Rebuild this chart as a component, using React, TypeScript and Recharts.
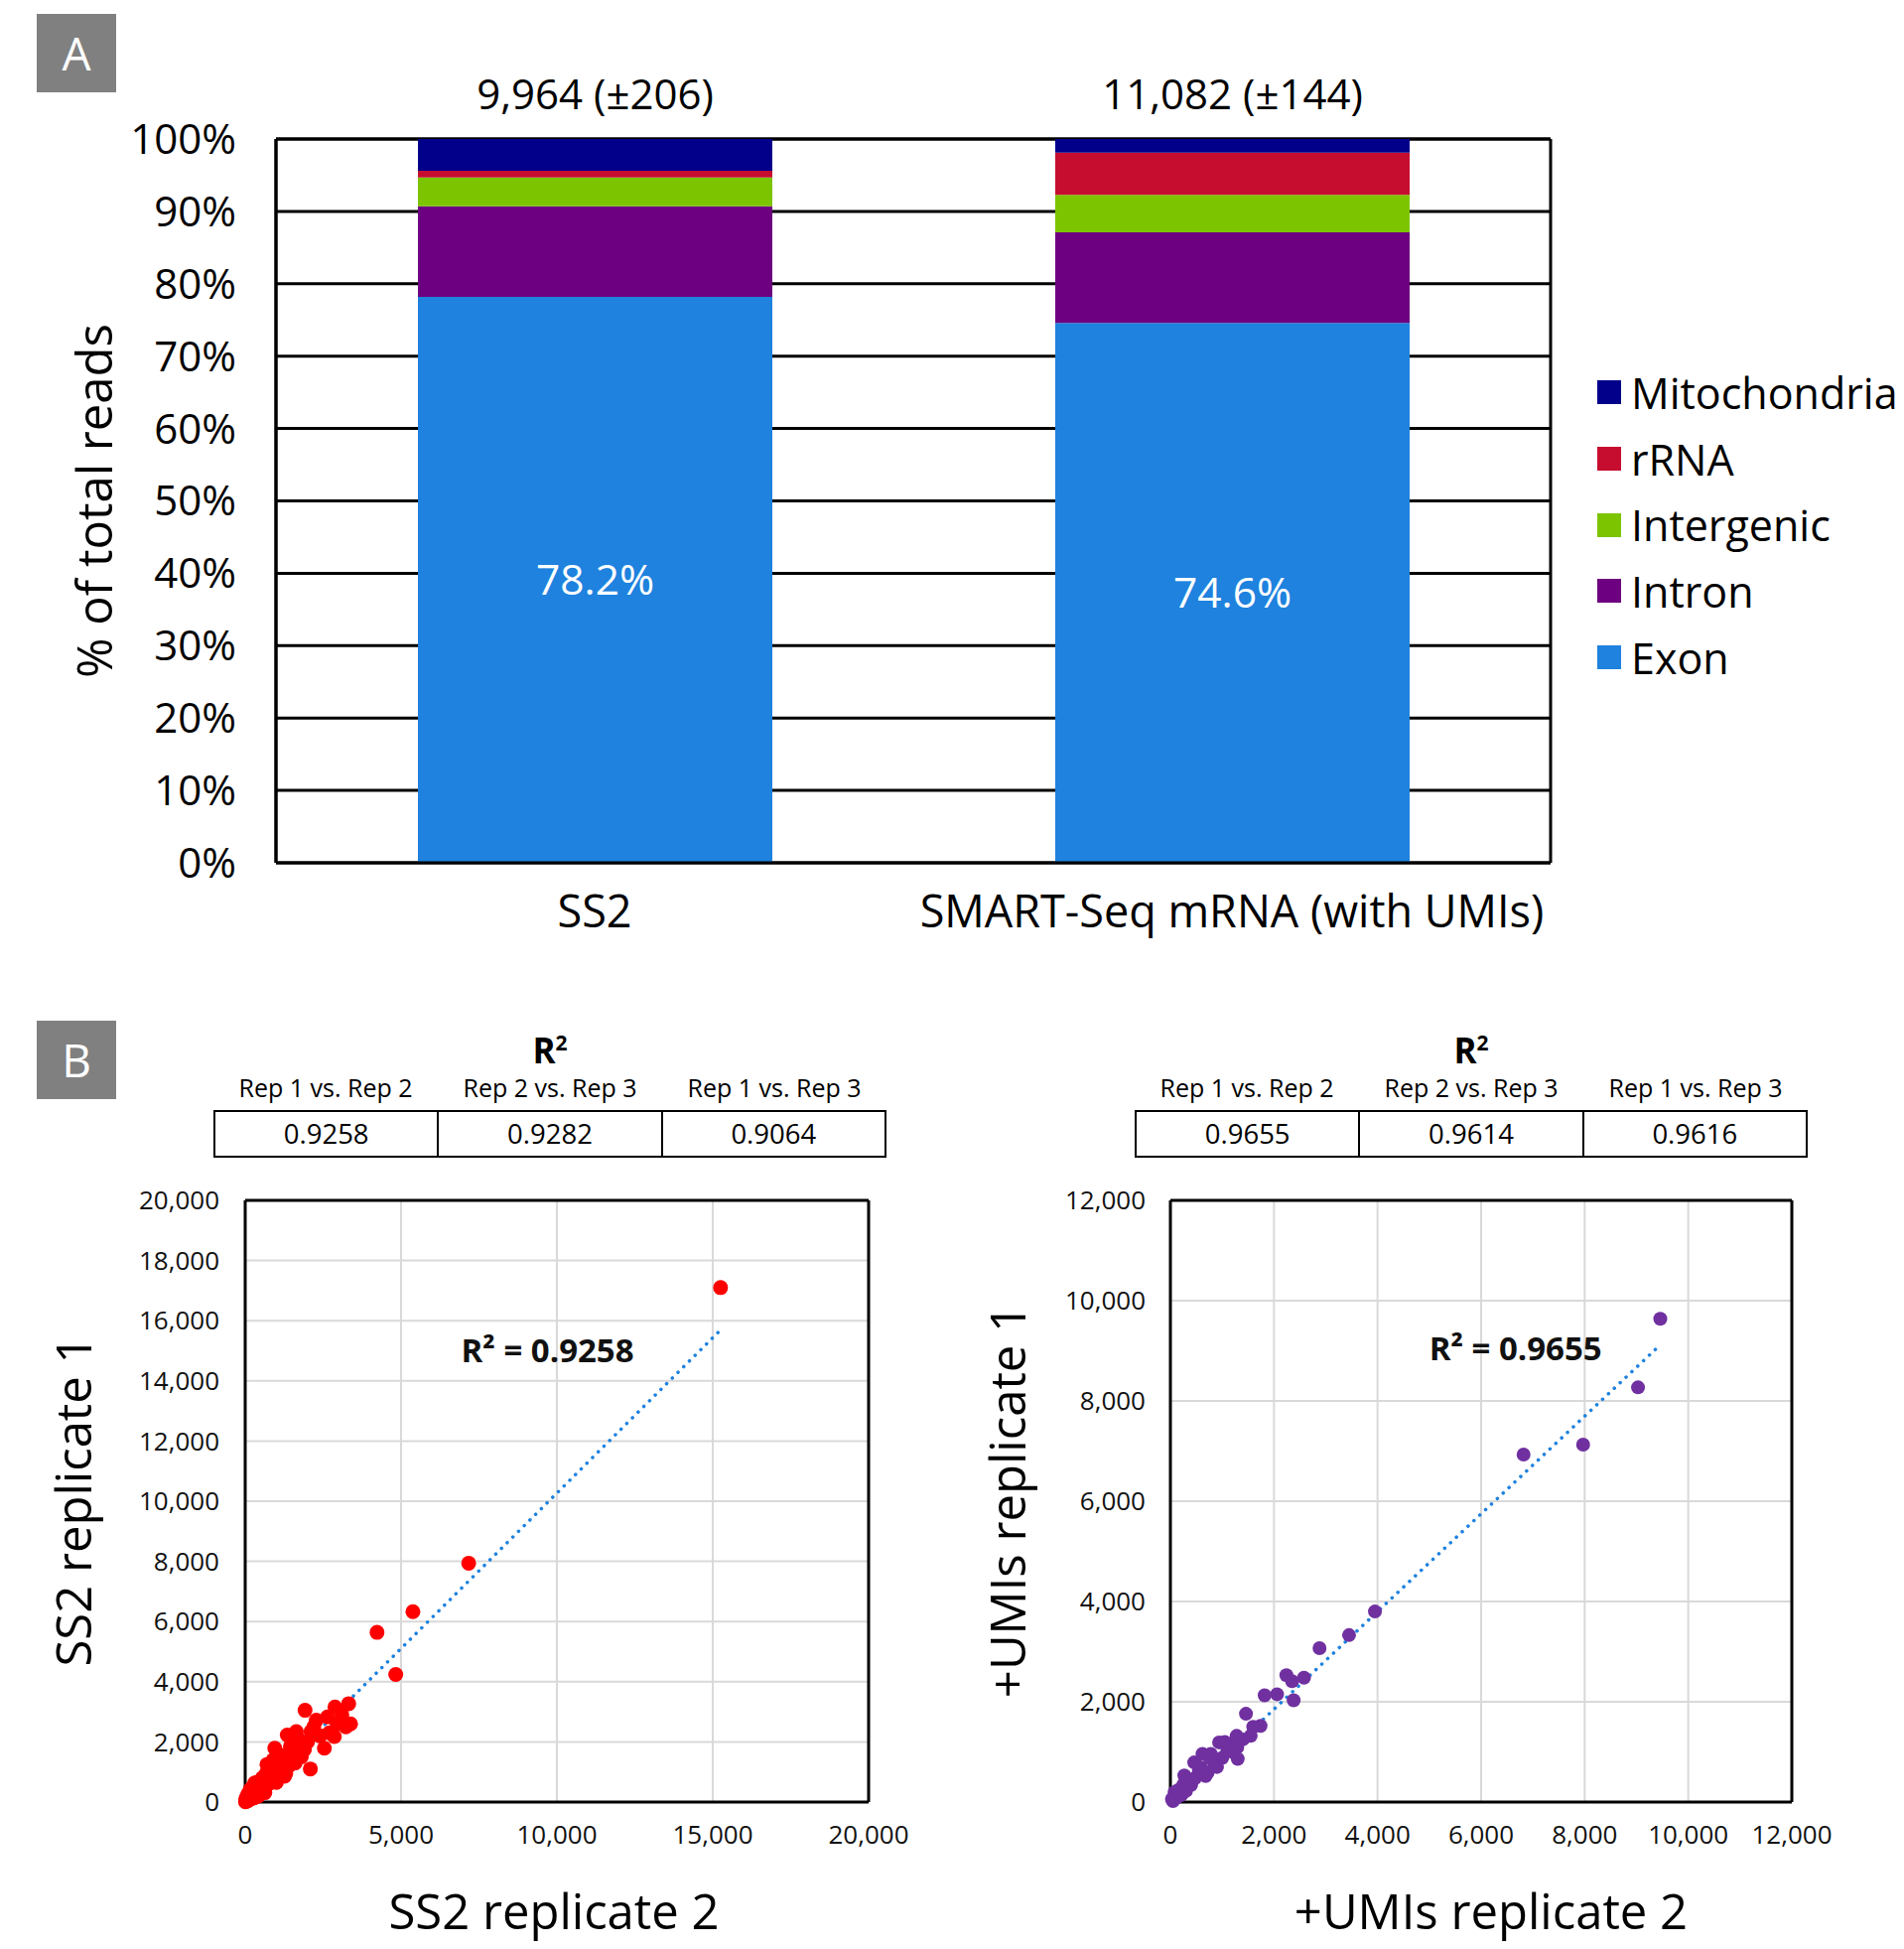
import {
  Bar,
  BarChart,
  CartesianGrid,
  LabelList,
  ReferenceDot,
  ReferenceLine,
  Scatter,
  ScatterChart,
  XAxis,
  YAxis,
} from "recharts";

// ---- panel A data ----
const categories = ["SS2", "SMART-Seq mRNA (with UMIs)"];
const readCounts = ["9,964 (±206)", "11,082 (±144)"];
const exon = [78.2, 74.6];
const intron = [12.5, 12.5];
const intergenic = [4.0, 5.2];
const rrna = [0.9, 5.8];
const mito = [4.4, 1.9];
const pctTicks = [0, 10, 20, 30, 40, 50, 60, 70, 80, 90, 100];

const SERIES = [
  { key: "Exon", color: "#1E82DE" },
  { key: "Intron", color: "#6D0080" },
  { key: "Intergenic", color: "#7CC400" },
  { key: "rRNA", color: "#C60D30" },
  { key: "Mitochondria", color: "#02008A" },
];

// ---- panel B data ----
const comparisons = ["Rep 1 vs. Rep 2", "Rep 2 vs. Rep 3", "Rep 1 vs. Rep 3"];
const ss2R2 = ["0.9258", "0.9282", "0.9064"];
const umiR2 = ["0.9655", "0.9614", "0.9616"];

const ss2X = [
  15250, 7170, 5380, 4230, 4830, 3320, 2880, 1920, 3230, 3380, 2280, 2640, 1640, 1350, 2110, 2540, 2090, 950,
  1850, 1580, 2400, 2000, 2200, 1800, 1700, 1500, 1400, 1250, 1100, 1200, 1000, 900, 800, 850, 700, 750, 600,
  650, 500, 550, 400, 450, 350, 300, 250, 200, 150, 120, 80, 60, 40, 30, 20, 10, 100, 180, 300, 1600, 1000,
  1300, 2700, 2950, 3100, 840, 1260, 630, 310, 2860, 1900, 1450, 1150, 700, 520, 420, 260, 160,
];
const ss2Y = [
  17100, 7940, 6330, 5640, 4240, 3270, 3160, 3050, 2500, 2600, 2720, 2830, 2340, 2230, 2340, 1790, 1100, 1790,
  1790, 2010, 2200, 2000, 2500, 1500, 2100, 1600, 1200, 1500, 1300, 900, 1000, 1400, 800, 1100, 1000, 600, 700,
  900, 500, 800, 600, 350, 450, 300, 500, 200, 350, 100, 250, 60, 150, 30, 80, 10, 50, 120, 150, 1300, 650,
  950, 2300, 2600, 2900, 1190, 860, 310, 640, 2180, 1750, 1850, 1550, 1250, 600, 200, 130, 420,
];
const ss2Trend = { x: [0, 15180], y: [-60, 15620] };

const umiX = [
  9460, 9030, 7970, 6820, 3950, 3450, 2880, 2580, 2240, 2350, 2380, 2060, 1820, 1740, 1460, 1550, 1280, 1300,
  940, 1100, 620, 460, 720, 270, 80, 590, 400, 210, 50, 1290, 1160, 780, 1000, 850, 680, 550, 350, 300, 150,
  120, 1400, 1200, 900, 760, 480, 250, 100, 30, 1600, 1050,
];
const umiY = [
  9640, 8270, 7130, 6930, 3800, 3330, 3070, 2480, 2530, 2410, 2030, 2150, 2130, 1520, 1760, 1320, 1320, 860,
  1190, 1020, 960, 790, 590, 530, 200, 690, 340, 140, 20, 1090, 1160, 960, 880, 760, 520, 620, 420, 220, 240,
  90, 1250, 1000, 700, 880, 480, 350, 130, 60, 1500, 1200,
];
const umiTrend = { x: [100, 9410], y: [0, 9070] };

const ss2Ticks = [0, 2000, 4000, 6000, 8000, 10000, 12000, 14000, 16000, 18000, 20000];
const ss2XTicks = [0, 5000, 10000, 15000, 20000];
const umiTicks = [0, 2000, 4000, 6000, 8000, 10000, 12000];

const barData = categories.map((name, i) => ({
  name,
  reads: readCounts[i],
  Exon: exon[i],
  Intron: intron[i],
  Intergenic: intergenic[i],
  rRNA: rrna[i],
  Mitochondria: mito[i],
}));

const ss2Points = ss2X.map((x, i) => ({ x, y: ss2Y[i] }));
const umiPoints = umiX.map((x, i) => ({ x, y: umiY[i] }));

const fmt = (v: number) => v.toLocaleString("en-US");

const yTitle = (text: string, dx: number, size: number) => (props: any) => {
  const { x, y, height } = props.viewBox;
  const cx = x + dx;
  const cy = y + height / 2;
  return (
    <text
      x={cx}
      y={cy}
      transform={`rotate(-90 ${cx} ${cy})`}
      textAnchor="middle"
      dominantBaseline="central"
      fontSize={size}
      fill="#000"
    >
      {text}
    </text>
  );
};

const xTitle = (text: string, dx: number, dy: number) => (props: any) => {
  const { x, y, width } = props.viewBox;
  return (
    <text x={x + width / 2 + dx} y={y + dy} textAnchor="middle" dominantBaseline="central" fontSize={49} fill="#000">
      {text}
    </text>
  );
};

// left and right frame edges of the bar plot, taken from the chart's own offset
const frameEdges = ({ offset }: any) => [offset.left, offset.left + offset.width];

const PanelTag = ({ letter, top }: { letter: string; top: number }) => (
  <div
    style={{
      position: "absolute",
      left: 37,
      top,
      width: 80,
      height: 79,
      background: "#808080",
      color: "#fff",
      fontSize: 46,
      lineHeight: "79px",
      textAlign: "center",
    }}
  >
    {letter}
  </div>
);

const R2Table = ({ left, values }: { left: number; values: string[] }) => (
  <div style={{ position: "absolute", left, top: 1028, width: 678 }}>
    <div style={{ textAlign: "center", fontWeight: 700, fontSize: 35, lineHeight: "44px" }}>
      R<sup style={{ fontSize: 21 }}>2</sup>
    </div>
    <div style={{ display: "flex", height: 38, alignItems: "center", fontSize: 25, marginTop: -4, marginBottom: 4 }}>
      {comparisons.map((c) => (
        <div key={c} style={{ flex: 1, textAlign: "center" }}>
          {c}
        </div>
      ))}
    </div>
    <div
      style={{
        display: "flex",
        height: 48,
        border: "2px solid #000",
        boxSizing: "border-box",
        fontSize: 27.5,
        alignItems: "stretch",
      }}
    >
      {values.map((v, i) => (
        <div
          key={i}
          style={{
            flex: 1,
            textAlign: "center",
            lineHeight: "44px",
            borderLeft: i === 0 ? "none" : "2px solid #000",
          }}
        >
          {v}
        </div>
      ))}
    </div>
  </div>
);

const tickStyle = { fontSize: 26, fill: "#111" };

export default function App() {
  return (
    <div
      style={{
        position: "absolute",
        left: 0,
        top: 0,
        width: 1918,
        height: 1963,
        background: "#fff",
        fontFamily: "'Open Sans', sans-serif",
        overflow: "hidden",
      }}
    >
      <PanelTag letter="A" top={14} />
      <div style={{ position: "absolute", left: 0, top: 0 }}>
        <BarChart width={1918} height={960} data={barData} margin={{ top: 140, right: 356, bottom: 11, left: 38 }}>
          <CartesianGrid
            stroke="#000"
            strokeWidth={3}
            verticalCoordinatesGenerator={frameEdges}
          />
          <XAxis
            dataKey="name"
            tickLine={false}
            tickSize={0}
            tickMargin={33}
            height={80}
            axisLine={{ stroke: "#000", strokeWidth: 3 }}
            tick={{ fontSize: 45, fill: "#000" }}
          />
          <YAxis
            domain={[0, 100]}
            ticks={pctTicks}
            tickFormatter={(v) => `${v}%`}
            width={240}
            tickLine={false}
            tickSize={0}
            tickMargin={40}
            axisLine={{ stroke: "#000", strokeWidth: 3 }}
            tick={{ fontSize: 42, fill: "#000" }}
            label={{ content: yTitle("% of total reads", 56, 49) }}
          />
          {SERIES.map((s) => (
            <Bar key={s.key} dataKey={s.key} stackId="a" fill={s.color} barSize={357} isAnimationActive={false}>
              {s.key === "Exon" && (
                <LabelList dataKey="Exon" position="center" fill="#fff" fontSize={42.5} formatter={(v: any) => `${v}%`} />
              )}
              {s.key === "Mitochondria" && (
                <LabelList dataKey="reads" position="top" offset={30} fill="#000" fontSize={42} />
              )}
            </Bar>
          ))}
        </BarChart>
      </div>
      <div style={{ position: "absolute", left: 1609, top: 362 }}>
        {[...SERIES].reverse().map((s) => (
          <div key={s.key} style={{ display: "flex", alignItems: "center", height: 66.7 }}>
            <div style={{ width: 24, height: 24, background: s.color, marginRight: 10 }} />
            <span style={{ fontSize: 43 }}>{s.key}</span>
          </div>
        ))}
      </div>

      <PanelTag letter="B" top={1028} />
      <R2Table left={215} values={ss2R2} />
      <R2Table left={1143} values={umiR2} />

      <div style={{ position: "absolute", left: 0, top: 1180 }}>
        <ScatterChart width={960} height={783} margin={{ top: 29, right: 85, bottom: 0, left: 67 }}>
          <CartesianGrid stroke="#D9D9D9" strokeWidth={2} />
          <XAxis
            type="number"
            dataKey="x"
            domain={[0, 20000]}
            ticks={ss2XTicks}
            tickFormatter={fmt}
            height={148}
            tickLine={false}
            tickSize={0}
            tickMargin={24}
            axisLine={{ stroke: "#000", strokeWidth: 3 }}
            tick={tickStyle}
            label={{ content: xTitle("SS2 replicate 2", -3, 109) }}
          />
          <YAxis
            type="number"
            dataKey="y"
            domain={[0, 20000]}
            ticks={ss2Ticks}
            tickFormatter={fmt}
            width={180}
            tickLine={false}
            tickSize={0}
            tickMargin={26}
            axisLine={{ stroke: "#000", strokeWidth: 3 }}
            tick={tickStyle}
            label={{ content: yTitle("SS2 replicate 1", 6, 49) }}
          />
          <ReferenceLine y={20000} stroke="#000" strokeWidth={3} />
          <ReferenceLine x={20000} stroke="#000" strokeWidth={3} />
          <Scatter
            data={ss2Points}
            isAnimationActive={false}
            shape={(p: any) => <circle cx={p.cx} cy={p.cy} r={7.5} fill="#FF0000" />}
          />
          <ReferenceLine
            segment={[
              { x: ss2Trend.x[0], y: ss2Trend.y[0] },
              { x: ss2Trend.x[1], y: ss2Trend.y[1] },
            ]}
            stroke="#1E82DE"
            strokeWidth={3.5}
            strokeDasharray="0.1 8"
            strokeLinecap="round"
            ifOverflow="visible"
          />
          <ReferenceDot
            x={9700}
            y={15000}
            r={0}
            label={{ value: "R² = 0.9258", position: "center", fontSize: 33, fontWeight: 700, fill: "#111" }}
          />
        </ScatterChart>
      </div>

      <div style={{ position: "absolute", left: 960, top: 1180 }}>
        <ScatterChart width={958} height={783} margin={{ top: 29, right: 113, bottom: 0, left: 39 }}>
          <CartesianGrid stroke="#D9D9D9" strokeWidth={2} />
          <XAxis
            type="number"
            dataKey="x"
            domain={[0, 12000]}
            ticks={umiTicks}
            tickFormatter={fmt}
            height={148}
            tickLine={false}
            tickSize={0}
            tickMargin={24}
            axisLine={{ stroke: "#000", strokeWidth: 3 }}
            tick={tickStyle}
            label={{ content: xTitle("+UMIs replicate 2", 10, 109) }}
          />
          <YAxis
            type="number"
            dataKey="y"
            domain={[0, 12000]}
            ticks={umiTicks}
            tickFormatter={fmt}
            width={180}
            tickLine={false}
            tickSize={0}
            tickMargin={25}
            axisLine={{ stroke: "#000", strokeWidth: 3 }}
            tick={tickStyle}
            label={{ content: yTitle("+UMIs replicate 1", 15, 49) }}
          />
          <ReferenceLine y={12000} stroke="#000" strokeWidth={3} />
          <ReferenceLine x={12000} stroke="#000" strokeWidth={3} />
          <Scatter
            data={umiPoints}
            isAnimationActive={false}
            shape={(p: any) => <circle cx={p.cx} cy={p.cy} r={7} fill="#7030A0" />}
          />
          <ReferenceLine
            segment={[
              { x: umiTrend.x[0], y: umiTrend.y[0] },
              { x: umiTrend.x[1], y: umiTrend.y[1] },
            ]}
            stroke="#1E82DE"
            strokeWidth={3.5}
            strokeDasharray="0.1 8"
            strokeLinecap="round"
            ifOverflow="visible"
          />
          <ReferenceDot
            x={6665}
            y={9050}
            r={0}
            label={{ value: "R² = 0.9655", position: "center", fontSize: 33, fontWeight: 700, fill: "#111" }}
          />
        </ScatterChart>
      </div>
    </div>
  );
}
